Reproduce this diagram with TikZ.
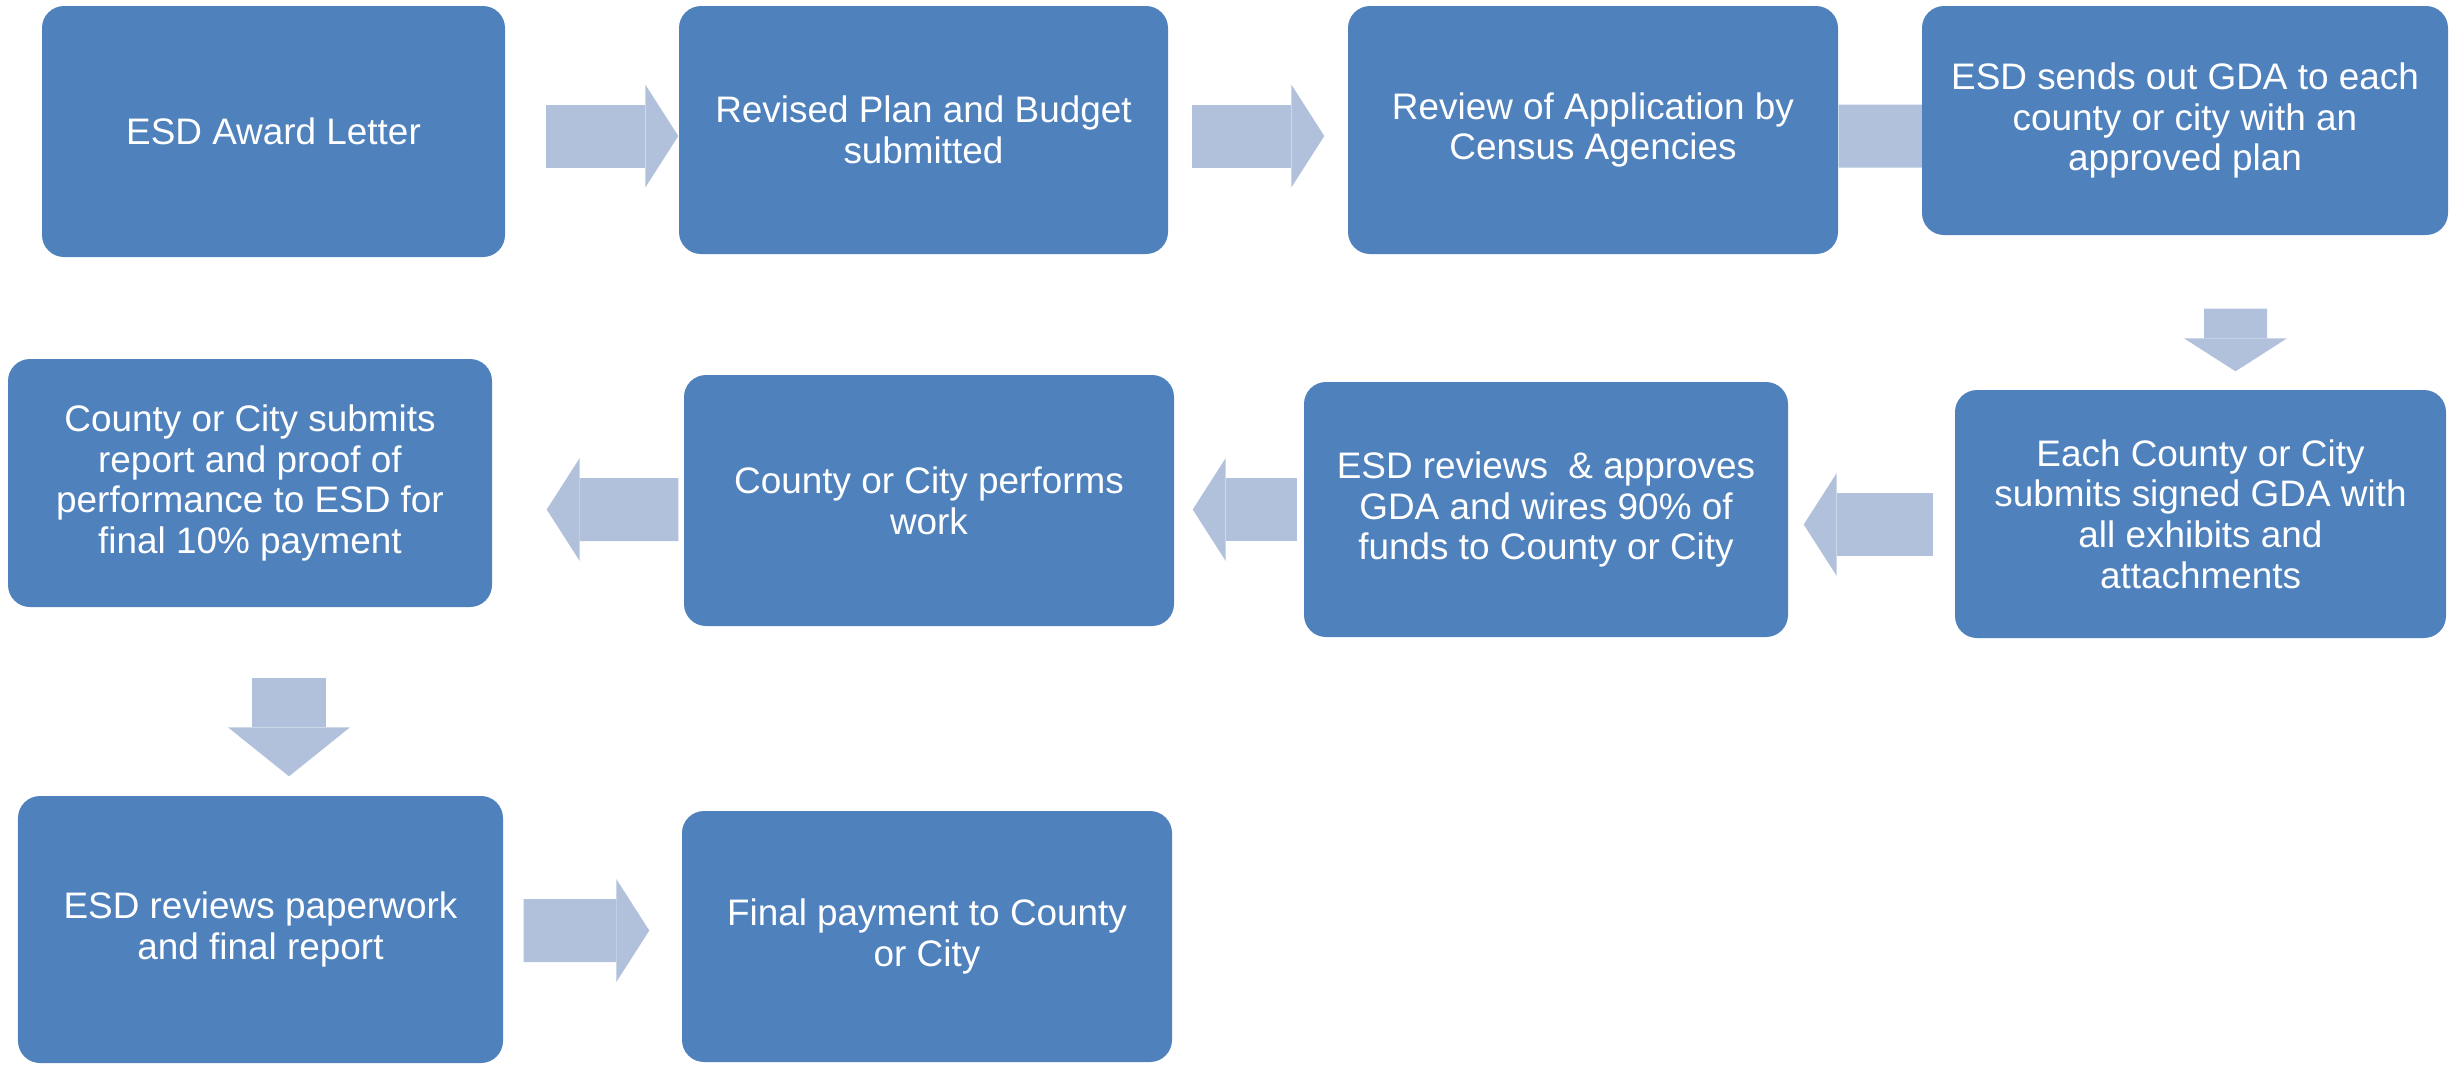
\documentclass[tikz,border=0pt]{standalone}
\usepackage{fontspec}
\setmainfont{Liberation Sans}
\usetikzlibrary{arrows.meta,backgrounds}

\begin{document}
\begin{tikzpicture}[
    stepbox/.style={rectangle, rounded corners=0.22cm, fill=boxblue, text=white,
      align=center, inner sep=0pt, font=\fontsize{10.5}{11.6}\selectfont},
    flowarrow/.style={line width=0.63cm, draw=arrowblue,
      -{Triangle[width=1.03cm, length=0.33cm, line width=0pt]}}
  ]
  % Define colors
  \definecolor{boxblue}{RGB}{79, 129, 189}
  \definecolor{arrowblue}{RGB}{177, 193, 220}

  \useasboundingbox (0, 0) rectangle (24.5, -10.64);

  % First row
  \node[stepbox, minimum width=4.63cm, minimum height=2.51cm] (award) at (2.735, -1.315) {ESD Award Letter};
  \node[stepbox, minimum width=4.89cm, minimum height=2.48cm] (revised) at (9.235, -1.30) {Revised Plan and Budget\\submitted};
  \node[stepbox, minimum width=4.90cm, minimum height=2.48cm] (review) at (15.93, -1.30) {Review of Application by\\Census Agencies};
  \node[stepbox, minimum width=5.26cm, minimum height=2.29cm] (sends) at (21.85, -1.205) {ESD sends out GDA to each\\county or city with an\\approved plan};

  % Second row
  \node[stepbox, minimum width=4.91cm, minimum height=2.48cm] (signed) at (22.005, -5.14) {Each County or City\\submits signed GDA with\\all exhibits and\\attachments};
  \node[stepbox, minimum width=4.84cm, minimum height=2.55cm] (wires) at (15.46, -5.095) {ESD reviews \ \& approves\\GDA and wires 90\% of\\funds to County or City};
  \node[stepbox, minimum width=4.90cm, minimum height=2.51cm] (work) at (9.29, -5.005) {County or City performs\\work};
  \node[stepbox, minimum width=4.84cm, minimum height=2.48cm] (proof) at (2.50, -4.83) {County or City submits\\report and proof of\\performance to ESD for\\final 10\% payment};

  % Third row
  \node[stepbox, minimum width=4.85cm, minimum height=2.67cm] (paper) at (2.605, -9.295) {ESD reviews paperwork\\and final report};
  \node[stepbox, minimum width=4.90cm, minimum height=2.51cm] (final) at (9.27, -9.365) {Final payment to County\\or City};

  % Arrows behind the boxes
  \begin{scope}[on background layer]
    \draw[flowarrow] ([shift={(0.40,-0.045)}]award.east) -- ([yshift=-0.06cm]revised.west);
    \draw[flowarrow] ([shift={(0.23,-0.06)}]revised.east) -- ([shift={(-0.23,-0.06)}]review.west);
    \draw[flowarrow] ([yshift=-0.06cm]review.east) -- ([shift={(0.38,-0.155)}]sends.west);
    \draw[flowarrow] ([shift={(0.505,-0.73)}]sends.south) -- ([shift={(0.35,0.18)}]signed.north);
    \draw[flowarrow] ([shift={(-0.21,-0.105)}]signed.west) -- ([shift={(0.15,-0.15)}]wires.east);
    \draw[flowarrow] ([xshift=-0.06cm]wires.west) -- ([shift={(0.18,-0.09)}]work.east);
    \draw[flowarrow] ([shift={(-0.05,-0.09)}]work.west) -- ([shift={(0.54,-0.265)}]proof.east);
    \draw[flowarrow, line width=0.74cm, -{Triangle[width=1.22cm, length=0.49cm, line width=0pt]}]
      ([shift={(0.39,-0.70)}]proof.south) -- ([shift={(0.285,0.19)}]paper.north);
    \draw[flowarrow] ([shift={(0.20,-0.01)}]paper.east) -- ([shift={(-0.32,0.06)}]final.west);
  \end{scope}
\end{tikzpicture}
\end{document}
